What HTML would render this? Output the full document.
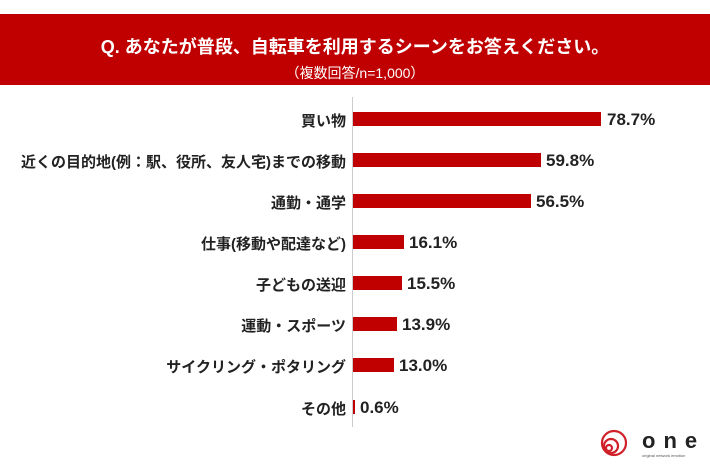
<!DOCTYPE html>
<html><head><meta charset="utf-8"><style>
body{margin:0;width:710px;height:474px;background:#fff;position:relative;overflow:hidden;font-family:"Liberation Sans","Noto Sans CJK JP",sans-serif}
.hdr{position:absolute;left:0;top:14px;width:710px;height:71px;background:#c00000;color:#fff;text-align:center}
.t1{position:absolute;top:19px;width:100%;font-size:18px;font-weight:bold}
.t2{position:absolute;top:49px;width:100%;font-size:14px}
.axis{position:absolute;left:352px;top:97px;width:1px;height:330px;background:#ccc}
.lab{position:absolute;right:364px;font-size:15px;font-weight:bold;color:#222;white-space:nowrap;line-height:18px;margin-top:3px}
.bar{position:absolute;left:353px;height:14px;background:#c00000}
.val{position:absolute;font-size:17px;font-weight:bold;color:#222;line-height:20px}
</style></head><body>
<div class="hdr"><div class="t1">Q. あなたが普段、自転車を利用するシーンをお答えください。</div><div class="t2">（複数回答/n=1,000）</div></div>
<div class="axis"></div>
<div class="lab" style="top:110px">買い物</div><div class="bar" style="top:112px;width:248px"></div><div class="val" style="left:607px;top:110px">78.7%</div>
<div class="lab" style="top:151px">近くの目的地(例：駅、役所、友人宅)までの移動</div><div class="bar" style="top:153px;width:188px"></div><div class="val" style="left:546px;top:151px">59.8%</div>
<div class="lab" style="top:192px">通勤・通学</div><div class="bar" style="top:194px;width:178px"></div><div class="val" style="left:536px;top:192px">56.5%</div>
<div class="lab" style="top:233px">仕事(移動や配達など)</div><div class="bar" style="top:235px;width:51px"></div><div class="val" style="left:409px;top:233px">16.1%</div>
<div class="lab" style="top:274px">子どもの送迎</div><div class="bar" style="top:276px;width:49px"></div><div class="val" style="left:407px;top:274px">15.5%</div>
<div class="lab" style="top:315px">運動・スポーツ</div><div class="bar" style="top:317px;width:44px"></div><div class="val" style="left:402px;top:315px">13.9%</div>
<div class="lab" style="top:356px">サイクリング・ポタリング</div><div class="bar" style="top:358px;width:41px"></div><div class="val" style="left:399px;top:356px">13.0%</div>
<div class="lab" style="top:398px">その他</div><div class="bar" style="top:400px;width:2px"></div><div class="val" style="left:360px;top:398px">0.6%</div>
<svg style="position:absolute;left:600px;top:428px" width="30" height="30" viewBox="0 0 30 30" fill="none" stroke="#d0202a" stroke-width="2.2">
<circle cx="14" cy="15" r="12"/><circle cx="11" cy="18" r="7"/><circle cx="9" cy="20" r="3"/></svg>
<div style="position:absolute;left:642px;top:428px;font-size:22px;font-weight:bold;letter-spacing:8px;color:#222">one</div>
<div style="position:absolute;left:642px;top:453px;font-size:4px;color:#555">original network emotion</div>
</body></html>
